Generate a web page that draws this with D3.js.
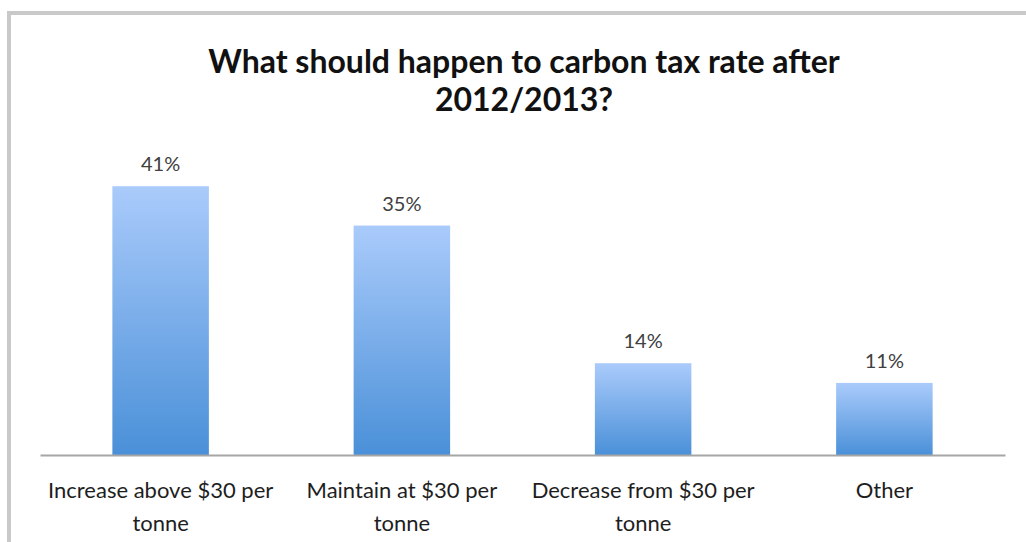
<!DOCTYPE html>
<html>
<head>
<meta charset="utf-8">
<script src="https://cdn.jsdelivr.net/npm/d3@7"></script>
<style>
  html, body { margin: 0; padding: 0; background: #ffffff; }
  svg { display: block; }
</style>
</head>
<body>
<svg id="chart" width="1026" height="542"></svg>
<script>
const titleLines = ["What should happen to carbon tax rate after", "2012/2013?"];
const categories = [
  "Increase above $30 per\ntonne",
  "Maintain at $30 per\ntonne",
  "Decrease from $30 per\ntonne",
  "Other"
];
const values = [41, 35, 14, 11];
const valueLabels = ["41%", "35%", "14%", "11%"];

const W = 1026, H = 542;
const svg = d3.select("#chart");
const font = "Lato, 'Open Sans', sans-serif";

// frame
svg.append("path")
  .attr("d", `M9,${H + 5} L9,13 L${W + 5},13`)
  .attr("fill", "none")
  .attr("stroke", "#c9c9c9")
  .attr("stroke-width", 4);

// gradient
const defs = svg.append("defs");
const grad = defs.append("linearGradient")
  .attr("id", "barGrad")
  .attr("x1", 0).attr("y1", 0).attr("x2", 0).attr("y2", 1);
grad.append("stop").attr("offset", "0%").attr("stop-color", "#aacbfb");
grad.append("stop").attr("offset", "100%").attr("stop-color", "#4a90d8");

const x = d3.scaleBand()
  .domain(categories)
  .range([40, 1005])
  .paddingInner(0.6)
  .paddingOuter(0.3);

const y = d3.scaleLinear()
  .domain([0, 45])
  .range([455, 160]);

// bars
svg.append("g").selectAll("rect")
  .data(values)
  .join("rect")
  .attr("x", (d, i) => x(categories[i]))
  .attr("y", d => y(d))
  .attr("width", x.bandwidth())
  .attr("height", d => y(0) - y(d))
  .attr("fill", "url(#barGrad)");

// baseline axis
const axis = d3.axisBottom(x).tickSize(0).tickFormat("");
const gAxis = svg.append("g")
  .attr("transform", `translate(0,${y(0)})`)
  .call(axis);
gAxis.select(".domain")
  .attr("stroke", "#a6a6a6")
  .attr("stroke-width", 2);

// category labels
const lab = svg.append("g").selectAll("text")
  .data(categories)
  .join("text")
  .attr("text-anchor", "middle")
  .attr("font-family", font)
  .attr("font-size", 22)
  .attr("fill", "#1e1e1e")
  .attr("transform", d => `translate(${x(d) + x.bandwidth() / 2},498)`);
lab.each(function(d) {
  const t = d3.select(this);
  d.split("\n").forEach((line, k) => {
    t.append("tspan").attr("x", 0).attr("y", k * 33).text(line);
  });
});

// value labels
svg.append("g").selectAll("text")
  .data(values)
  .join("text")
  .attr("x", (d, i) => x(categories[i]) + x.bandwidth() / 2)
  .attr("y", d => y(d) - 15)
  .attr("text-anchor", "middle")
  .attr("font-family", font)
  .attr("font-size", 20)
  .attr("fill", "#404040")
  .text((d, i) => valueLabels[i]);

// title
svg.append("g").selectAll("text")
  .data(titleLines)
  .join("text")
  .attr("x", 524)
  .attr("y", (d, i) => 73 + i * 38)
  .attr("text-anchor", "middle")
  .attr("font-family", font)
  .attr("font-weight", "bold")
  .attr("font-size", 32)
  .attr("fill", "#111111")
  .text(d => d);
</script>
</body>
</html>
